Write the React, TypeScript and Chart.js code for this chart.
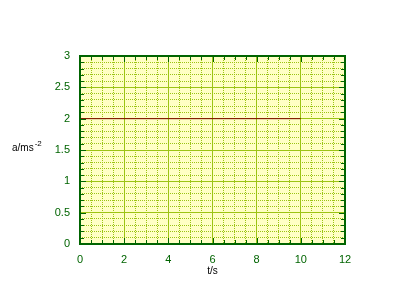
import React, { useEffect, useRef } from "react";
import { Chart, registerables } from "chart.js";

Chart.register(...registerables);

const tValues = [0, 10];
const aValues = [2, 2];
const xMin = 0, xMax = 12, xMajorStep = 2, xMinorStep = 0.5;
const yMin = 0, yMax = 3, yMajorStep = 0.5, yMinorStep = 0.1;
const xTitle = "t/s";
const yTitleMain = "a/ms";
const yTitleSup = "-2";

const GREEN = "#006400";
const GRID = "#9cc414";
const FONT = "'Liberation Sans', Arial, sans-serif";

const framePlugin = {
  id: "frame",
  beforeDraw(chart: any) {
    const { ctx, chartArea } = chart;
    const { left, top, right, bottom } = chartArea;
    ctx.save();
    ctx.fillStyle = "#ffffc4";
    ctx.fillRect(left, top, right - left, bottom - top);
    ctx.restore();
  },
  afterDraw(chart: any) {
    const { ctx, chartArea } = chart;
    const { left, top, right, bottom } = chartArea;
    const xs = chart.scales.x;
    const ys = chart.scales.y;
    const xm = chart.scales.xMinor;
    const ym = chart.scales.yMinor;
    ctx.save();
    ctx.strokeStyle = GREEN;
    ctx.lineWidth = 1;
    ctx.beginPath();
    xm.ticks.forEach((t: any) => {
      const px = Math.round(xs.getPixelForValue(t.value)) + 0.5;
      const major = Math.abs(t.value / xMajorStep - Math.round(t.value / xMajorStep)) < 1e-6;
      const len = major ? 6 : 4;
      ctx.moveTo(px, bottom);
      ctx.lineTo(px, bottom - len);
      ctx.moveTo(px, top);
      ctx.lineTo(px, top + len);
    });
    ym.ticks.forEach((t: any) => {
      const py = Math.round(ys.getPixelForValue(t.value)) + 0.5;
      const major = Math.abs(t.value / yMajorStep - Math.round(t.value / yMajorStep)) < 1e-6;
      const len = major ? 6 : 4;
      ctx.moveTo(left, py);
      ctx.lineTo(left + len, py);
      ctx.moveTo(right, py);
      ctx.lineTo(right - len, py);
    });
    ctx.stroke();
    ctx.lineWidth = 2;
    ctx.strokeRect(left, top, right - left, bottom - top);

    // axis titles
    ctx.fillStyle = "#000";
    ctx.textBaseline = "alphabetic";
    ctx.font = `10px ${FONT}`;
    ctx.textAlign = "center";
    ctx.fillText(xTitle, (left + right) / 2, bottom + 30);
    ctx.textAlign = "left";
    const yt = 151;
    ctx.fillText(yTitleMain, 12, yt);
    const w = ctx.measureText(yTitleMain).width;
    ctx.font = `8px ${FONT}`;
    ctx.fillText(yTitleSup, 12 + w + 1, yt - 5);
    ctx.restore();
  },
};

const fmt = (v: any) => String(Math.round(Number(v) * 100) / 100);

export default function App() {
  const ref = useRef<HTMLCanvasElement | null>(null);
  useEffect(() => {
    document.body.style.margin = "0";
    const canvas = ref.current!;
    const chart = new Chart(canvas, {
      type: "scatter",
      data: {
        datasets: [
          {
            data: tValues.map((t, i) => ({ x: t, y: aValues[i] })),
            showLine: true,
            borderColor: "#800000",
            borderWidth: 1,
            pointRadius: 0,
            fill: false,
          },
        ],
      },
      options: {
        responsive: false,
        animation: false,
        devicePixelRatio: 1,
        layout: { padding: { top: 56, right: 53, left: 0, bottom: 0 } },
        plugins: { legend: { display: false }, tooltip: { enabled: false } },
        scales: {
          xMinor: {
            type: "linear",
            position: "bottom",
            min: xMin,
            max: xMax,
            z: -2,
            ticks: { display: false, stepSize: xMinorStep },
            grid: { color: GRID, lineWidth: 1, drawTicks: false },
            border: { display: false, dash: [1, 1] },
            afterFit: (s: any) => { s.height = 0; },
          },
          yMinor: {
            type: "linear",
            position: "left",
            min: yMin,
            max: yMax,
            z: -2,
            ticks: { display: false, stepSize: yMinorStep },
            grid: { color: GRID, lineWidth: 1, drawTicks: false },
            border: { display: false, dash: [1, 1] },
            afterFit: (s: any) => { s.width = 0; },
          },
          x: {
            type: "linear",
            position: "bottom",
            min: xMin,
            max: xMax,
            z: -1,
            ticks: {
              stepSize: xMajorStep,
              color: GREEN,
              font: { family: FONT, size: 11 },
              padding: 9,
              maxRotation: 0,
              callback: fmt,
            },
            grid: { color: GRID, lineWidth: 1, drawTicks: false },
            border: { display: false },
            afterFit: (s: any) => { s.height = 37; },
          },
          y: {
            type: "linear",
            position: "left",
            min: yMin,
            max: yMax,
            z: -1,
            ticks: {
              stepSize: yMajorStep,
              color: GREEN,
              font: { family: FONT, size: 11 },
              padding: 10,
              callback: fmt,
            },
            grid: { color: GRID, lineWidth: 1, drawTicks: false },
            border: { display: false },
            afterFit: (s: any) => { s.width = 80; },
          },
        },
      } as any,
      plugins: [framePlugin],
    });
    return () => chart.destroy();
  }, []);
  return (
    <div style={{ width: 398, height: 281 }}>
      <canvas ref={ref} width={398} height={281} style={{ display: "block" }} />
    </div>
  );
}
